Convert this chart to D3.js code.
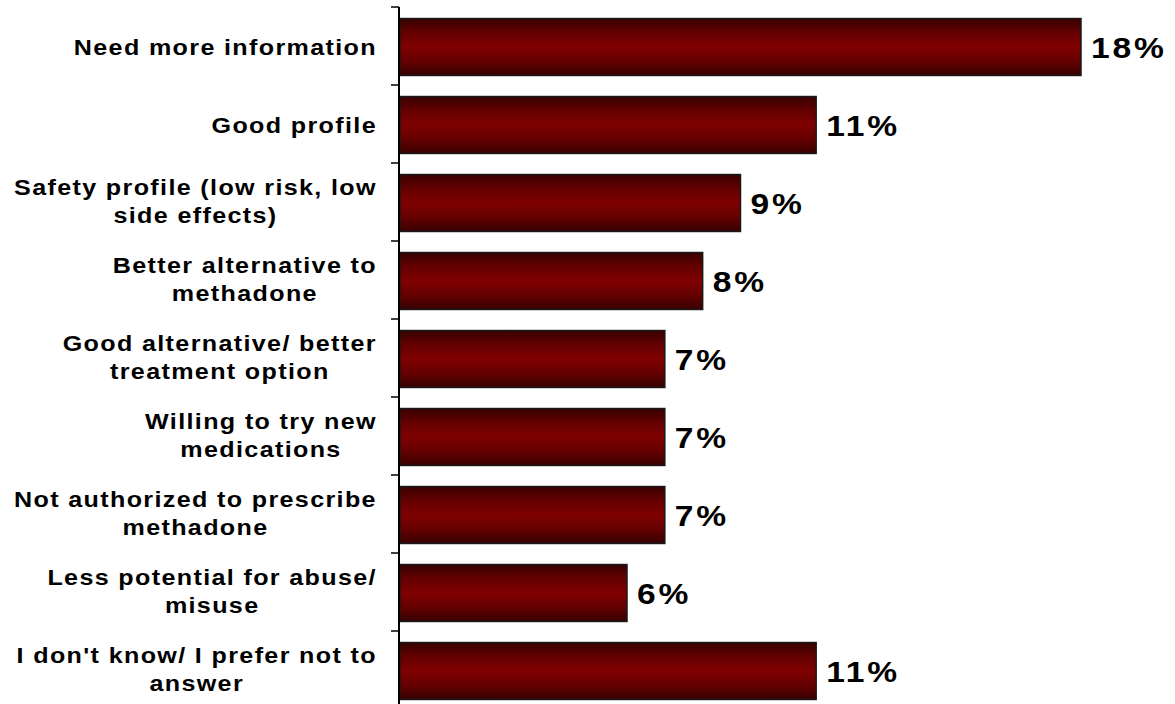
<!DOCTYPE html>
<html>
<head>
<meta charset="utf-8">
<script src="https://cdn.jsdelivr.net/npm/d3@7"></script>
<style>
  html, body { margin: 0; padding: 0; background: #fff; }
  svg { display: block; }
  text { font-family: "Liberation Sans", Arial, sans-serif; font-weight: bold; fill: #000; }
</style>
</head>
<body>
<svg id="chart" width="1175" height="704"></svg>
<script>
const categories = [
  ["Need more information"],
  ["Good profile"],
  ["Safety profile (low risk, low", "side effects)"],
  ["Better alternative to", "methadone"],
  ["Good alternative/ better", "treatment option"],
  ["Willing to try new", "medications"],
  ["Not authorized to prescribe", "methadone"],
  ["Less potential for abuse/", "misuse"],
  ["I don't know/ I prefer not to", "answer"]
];
const values = [18, 11, 9, 8, 7, 7, 7, 6, 11];
const valueLabels = ["18%", "11%", "9%", "8%", "7%", "7%", "7%", "6%", "11%"];

const svg = d3.select("#chart");
const ids = categories.map((c, i) => i);

const y = d3.scaleBand().domain(ids).range([7, 709]).paddingInner(0.27).paddingOuter(0.135);
const yAxisScale = d3.scaleBand().domain(ids).range([7, 709]);
const x = d3.scaleLinear().domain([0, 18]).range([400, 1081]);

const defs = svg.append("defs");
const grad = defs.append("linearGradient").attr("id", "barGrad")
  .attr("x1", 0).attr("y1", 0).attr("x2", 0).attr("y2", 1);
grad.append("stop").attr("offset", "0%").attr("stop-color", "#380000");
grad.append("stop").attr("offset", "25%").attr("stop-color", "#640000");
grad.append("stop").attr("offset", "50%").attr("stop-color", "#800000");
grad.append("stop").attr("offset", "75%").attr("stop-color", "#640000");
grad.append("stop").attr("offset", "100%").attr("stop-color", "#380000");

// bars
svg.append("g").selectAll("rect").data(values).join("rect")
  .attr("x", x(0))
  .attr("y", (d, i) => y(i) + 1)
  .attr("width", d => x(d) - x(0))
  .attr("height", y.bandwidth())
  .attr("fill", "url(#barGrad)")
  .attr("stroke", "#1a1a1a")
  .attr("stroke-width", 1.5);

// axis line + ticks at band boundaries
const axisG = svg.append("g");
axisG.append("line")
  .attr("x1", 399).attr("x2", 399)
  .attr("y1", yAxisScale.range()[0]).attr("y2", yAxisScale.range()[1])
  .attr("stroke", "#000").attr("stroke-width", 2);
const boundaries = ids.map(i => yAxisScale(i)).concat([yAxisScale.range()[1]]);
axisG.selectAll("line.tick").data(boundaries).join("line")
  .attr("class", "tick")
  .attr("x1", 391).attr("x2", 399)
  .attr("y1", d => d).attr("y2", d => d)
  .attr("stroke", "#000").attr("stroke-width", 1.5);

// category labels
const labelSX = 1.14;
const lineGap = 28;
const rightEdge = 377;
const labG = svg.append("g");
categories.forEach((lines, i) => {
  const cy = y(i) + 1 + y.bandwidth() / 2;
  const n = lines.length;
  const texts = lines.map((t, k) => {
    const baseline = cy + (k - (n - 1) / 2) * lineGap + (n === 1 ? 8 : 5.5);
    return labG.append("text")
      .attr("text-anchor", "middle")
      .attr("font-size", 22)
      .attr("letter-spacing", 1.2)
      .attr("data-baseline", baseline)
      .text(t);
  });
  const maxW = d3.max(texts, t => t.node().getComputedTextLength()) * labelSX;
  const cx = rightEdge - maxW / 2;
  texts.forEach(t => {
    t.attr("transform", `translate(${cx},${t.attr("data-baseline")}) scale(${labelSX},1)`);
  });
});

// value labels
svg.append("g").selectAll("text").data(values).join("text")
  .attr("transform", (d, i) => `translate(${x(d) + 10},${y(i) + 1 + y.bandwidth() / 2 + 11}) scale(1.12,1)`)
  .attr("font-size", 30)
  .attr("letter-spacing", 2.5)
  .text((d, i) => valueLabels[i]);
</script>
</body>
</html>
